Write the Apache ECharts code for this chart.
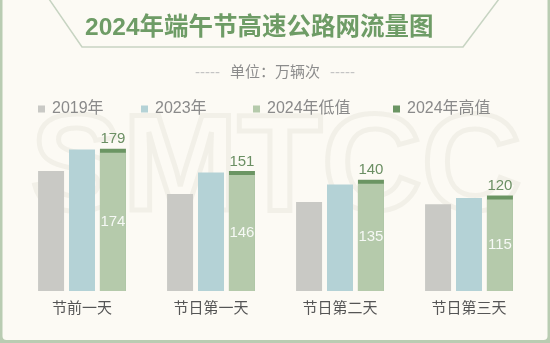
<!DOCTYPE html>
<html>
<head>
<meta charset="utf-8">
<script src="https://cdn.jsdelivr.net/npm/echarts@6/dist/echarts.min.js"></script>
<style>
  html, body { margin: 0; padding: 0; background: #b9ccb2; }
  #chart { width: 550px; height: 343px; }
</style>
</head>
<body>
<div id="chart"></div>
<script>
// Days of the Dragon Boat Festival holiday
const categories = ['节前一天', '节日第一天', '节日第二天', '节日第三天'];
// Expressway traffic, unit: 10,000 vehicles
const values2019 = [151, 122, 112, 109];
const values2023 = [178, 149, 134, 117];
const values2024Low = [174, 146, 135, 115];
const values2024High = [179, 151, 140, 120];

const legendNames = ['2019年', '2023年', '2024年低值', '2024年高值'];
const colors = {
  y2019: '#c9c9c5',
  y2023: '#b4d2d6',
  low: '#b5caab',
  high: '#6b9563'
};
const FONT = '"Liberation Sans", "Noto Sans CJK SC", sans-serif';
const chart = echarts.init(document.getElementById('chart'));

const barCommon = { barWidth: 26, barGap: '19%' };

const legendLefts = [33, 136, 248, 388];

chart.setOption({
  backgroundColor: 'transparent',
  animation: false,
  textStyle: { fontFamily: FONT },
  graphic: [
    {
      type: 'rect', z: -10, silent: true,
      shape: { x: 2.5, y: -6, width: 545, height: 346, r: 4 },
      style: { fill: '#fcfaf4' }
    },
    {
      type: 'text', z: -5, silent: true,
      style: {
        text: 'SMTCC', x: 276, y: 172,
        textAlign: 'center', textVerticalAlign: 'middle',
        font: 'bold 138px "Liberation Sans", sans-serif',
        fill: 'rgba(0,0,0,0)', stroke: 'rgba(120,110,90,0.07)', lineWidth: 5
      }
    },
    {
      type: 'polyline', z: -4, silent: true,
      shape: { points: [[49, -1], [82, 47], [463, 47], [499, -1]] },
      style: { stroke: '#c7d4c2', lineWidth: 1.5, fill: null }
    }
  ],
  title: [
    {
      text: '2024年端午节高速公路网流量图',
      left: 80, top: 11,
      textStyle: { fontSize: 24.5, fontWeight: 'bold', color: '#6e9c66', fontFamily: FONT }
    },
    {
      text: '{d|-----}  {t|单位：万辆次}  {d|-----}',
      left: 'center', top: 64,
      textStyle: {
        fontFamily: FONT, fontWeight: 'normal',
        rich: {
          d: { fontSize: 15, color: '#c4c4c4', fontFamily: FONT, fontWeight: 'normal' },
          t: { fontSize: 15, color: '#8c8c8c', fontFamily: FONT, fontWeight: 'normal' }
        }
      },
      padding: [0, 28, 0, 0]
    }
  ],
  legend: legendNames.map((name, i) => ({
    data: [name],
    left: legendLefts[i], top: 96,
    icon: 'rect', itemWidth: 7, itemHeight: 7, itemGap: 0,
    textStyle: { fontSize: 16, color: '#8a8a8a', fontFamily: FONT, padding: [0, 0, 0, 2] },
    selectedMode: false
  })),
  grid: { left: 17.5, right: 16.5, top: 132, bottom: 52 },
  xAxis: [
    {
      type: 'category', data: categories,
      axisLine: { show: false }, axisTick: { show: false },
      axisLabel: { fontSize: 15, color: '#555', margin: 10, fontFamily: FONT }
    },
    {
      type: 'category', data: categories, show: false
    }
  ],
  yAxis: { type: 'value', min: 0, max: 200, show: false, splitLine: { show: false } },
  series: [
    Object.assign({
      name: '2019年', type: 'bar', xAxisIndex: 0, data: values2019,
      itemStyle: { color: colors.y2019 }
    }, barCommon),
    Object.assign({
      name: '2023年', type: 'bar', xAxisIndex: 0, data: values2023,
      itemStyle: { color: colors.y2023 }
    }, barCommon),
    Object.assign({
      name: '2024年高值', type: 'bar', xAxisIndex: 0, data: values2024High,
      itemStyle: { color: colors.high },
      label: {
        show: true, position: 'top', distance: 2,
        fontSize: 15, color: '#6b8f63', fontFamily: FONT
      }
    }, barCommon),
    // empty slots on the second axis so the low bar lines up with the high bar
    Object.assign({ name: 'slot-a', type: 'bar', xAxisIndex: 1, data: [] }, barCommon),
    Object.assign({ name: 'slot-b', type: 'bar', xAxisIndex: 1, data: [] }, barCommon),
    Object.assign({
      name: '2024年低值', type: 'bar', xAxisIndex: 1, data: values2024Low,
      itemStyle: { color: colors.low },
      label: {
        show: true, position: 'inside',
        fontSize: 15, color: 'rgba(255,255,255,0.88)', fontFamily: FONT
      }
    }, barCommon)
  ]
});
</script>
</body>
</html>
